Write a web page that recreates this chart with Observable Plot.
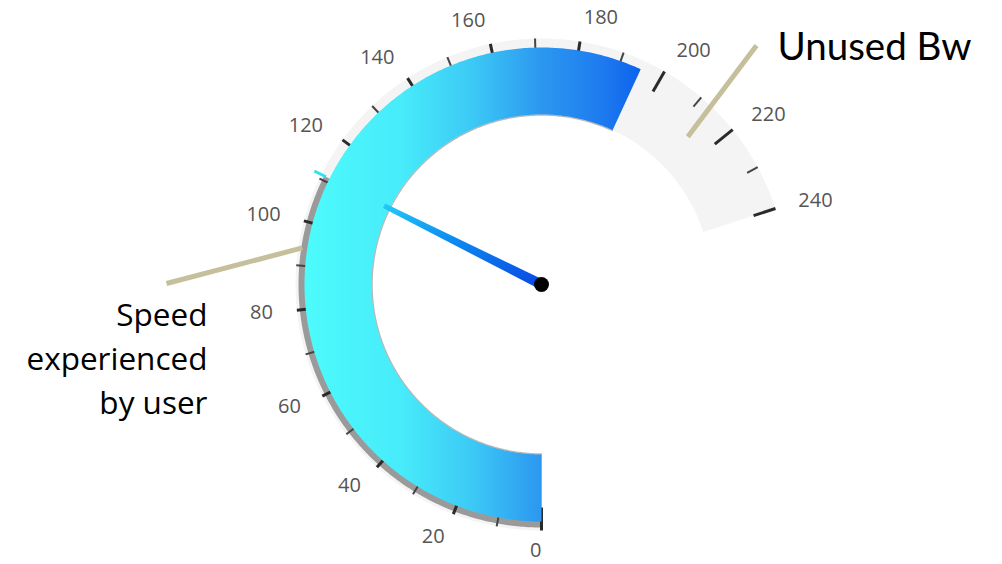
<!DOCTYPE html>
<html>
<head>
<meta charset="utf-8">
<script src="https://cdn.jsdelivr.net/npm/d3@7"></script>
<script src="https://cdn.jsdelivr.net/npm/@observablehq/plot@0.6"></script>
<style>
  html, body { margin: 0; padding: 0; background: #fff; }
  #chart svg { display: block; }
</style>
</head>
<body>
<div id="chart"></div>
<script>
// ---------- data ----------
const gaugeMin = 0;
const gaugeMax = 240;
const majorTicks = [0, 20, 40, 60, 80, 100, 120, 140, 160, 180, 200, 220, 240];
const minorTicks = [10, 30, 50, 70, 90, 110, 130, 150, 170, 190, 210, 230];
const tickLabels = ["0", "20", "40", "60", "80", "100", "120", "140", "160", "180", "200", "220", "240"];
const usedBandwidth = 195;   // end of the coloured arc
const userSpeed = 111;       // needle value
const calloutTexts = ["Unused Bw", "Speed\nexperienced\nby user"];
const calloutValues = [214, 94]; // gauge values the callouts point at

// ---------- layout (pixels) ----------
const W = 1002, H = 564;
const CX = 541, CY = 284;              // gauge centre
const SWEEP = 252;                      // degrees covered by gaugeMin..gaugeMax
const START = -180;                     // angle of gaugeMin, clockwise from 12 o'clock
const R_IN = 170, R_OUT = 237, R_BG = 246, R_SHADOW = 243, R_LABEL = 270;

function ang(v) { return (START + (v - gaugeMin) / (gaugeMax - gaugeMin) * SWEEP) * Math.PI / 180; }
function polar(v, r) { const a = ang(v); return {x: r * Math.sin(a), y: r * Math.cos(a)}; }
function band(v0, v1, r0, r1) {
  const n = Math.max(2, Math.ceil(Math.abs(v1 - v0) / 0.5));
  const pts = [];
  for (let i = 0; i <= n; i++) pts.push(polar(v0 + (v1 - v0) * i / n, r1));
  for (let i = n; i >= 0; i--) pts.push(polar(v0 + (v1 - v0) * i / n, r0));
  return pts;
}
function arcLine(v0, v1, r) {
  const n = Math.max(2, Math.ceil(Math.abs(v1 - v0) / 0.5));
  const pts = [];
  for (let i = 0; i <= n; i++) pts.push(polar(v0 + (v1 - v0) * i / n, r));
  return pts;
}

const tickRows = [
  ...majorTicks.map(v => ({v, major: true, a: polar(v, 223), b: polar(v, 246)})),
  ...minorTicks.map(v => ({v, major: false, a: polar(v, 234), b: polar(v, 246)}))
];
const labelRows = majorTicks.map((v, i) => {
  const a = ang(v);
  // keep the bottom label inside the frame
  const r = R_LABEL - (Math.cos(a) < -0.99 ? 4 : 0);
  return {text: tickLabels[i], left: Math.sin(a) <= 1e-9, ...polar(v, r)};
});

// needle (tapered)
const needleAngle = ang(userSpeed);
function needlePoly() {
  const L = 176, w0 = 5, w1 = 2.5;
  const ux = Math.sin(needleAngle), uy = Math.cos(needleAngle);
  const px = uy, py = -ux;
  return [
    {x: px * w0, y: py * w0},
    {x: ux * L + px * w1, y: uy * L + py * w1},
    {x: ux * L - px * w1, y: uy * L - py * w1},
    {x: -px * w0, y: -py * w0}
  ];
}

// callouts: gauge point -> free end (offsets from gauge centre)
const calloutLayout = [
  {r: 208, end: {x: 215, y: 239}, text: {x: 236, y: 252, anchor: "start"}},
  {r: 242, end: {x: -375, y: 1}, text: {x: -334, y: -10, anchor: "end"}}
];
const calloutLines = calloutValues.map((v, i) => ({a: polar(v, calloutLayout[i].r), b: calloutLayout[i].end}));
const calloutLabels = calloutTexts.map((t, i) => ({text: t, ...calloutLayout[i].text}));

const defs = () => {
  const ns = "http://www.w3.org/2000/svg";
  const d = document.createElementNS(ns, "defs");
  d.innerHTML = `
    <linearGradient id="arcGrad" x1="0" y1="0" x2="1" y2="0">
      <stop offset="0" stop-color="#4dfbfc"/>
      <stop offset="0.29" stop-color="#47ebfa"/>
      <stop offset="0.5" stop-color="#3cc9f5"/>
      <stop offset="0.70" stop-color="#2c98f0"/>
      <stop offset="0.88" stop-color="#1e7cef"/>
      <stop offset="1" stop-color="#0e62ee"/>
    </linearGradient>
    <linearGradient id="needleGrad" x1="0" y1="0" x2="1" y2="1">
      <stop offset="0" stop-color="#22cbf7"/>
      <stop offset="0.45" stop-color="#0c88f0"/>
      <stop offset="1" stop-color="#0a44e2"/>
    </linearGradient>`;
  return d;
};

const seg = {x1: d => d.a.x, y1: d => d.a.y, x2: d => d.b.x, y2: d => d.b.y};

const chart = Plot.plot({
  width: W, height: H,
  margin: 0,
  x: {domain: [-CX, W - CX], range: [0, W], axis: null},
  y: {domain: [-(H - CY), CY], range: [H, 0], axis: null},
  style: {background: "#fff", overflow: "visible"},
  marks: [
    defs,
    // light background band
    Plot.line(band(gaugeMin, gaugeMax, R_IN, R_BG), {x: "x", y: "y", fill: "#f4f4f4", stroke: "none", curve: "linear-closed"}),
    // dark shadow band up to the needle
    Plot.line(band(gaugeMin, userSpeed, R_IN, R_SHADOW), {x: "x", y: "y", fill: "#9a9a9a", stroke: "none", curve: "linear-closed"}),
    // inner shadow
    Plot.line(arcLine(gaugeMin, usedBandwidth, R_IN - 0.5), {x: "x", y: "y", stroke: "#b8b8b8", strokeWidth: 1.5}),
    // ticks
    Plot.link(tickRows, {...seg, stroke: d => d.major ? "#2a2a2a" : "#444", strokeWidth: d => d.major ? 3 : 2}),
    // coloured arc
    Plot.line(band(gaugeMin, usedBandwidth, R_IN, R_OUT), {x: "x", y: "y", fill: "url(#arcGrad)", stroke: "none", curve: "linear-closed"}),
    // needle marker at the rim
    Plot.link([{a: polar(userSpeed, 241), b: polar(userSpeed, 254)}], {...seg, stroke: "#33e0f2", strokeWidth: 3}),
    // needle
    Plot.line(needlePoly(), {x: "x", y: "y", fill: "url(#needleGrad)", stroke: "none", curve: "linear-closed"}),
    Plot.dot([{x: 0, y: 0}], {x: "x", y: "y", r: 7.5, fill: "#000", stroke: "none"}),
    // tick labels
    Plot.text(labelRows.filter(d => d.left), {x: "x", y: "y", text: "text", textAnchor: "end", fontSize: 20, fill: "#555", fontFamily: "'Open Sans', sans-serif"}),
    Plot.text(labelRows.filter(d => !d.left), {x: "x", y: "y", text: "text", textAnchor: "start", fontSize: 20, fill: "#555", fontFamily: "'Open Sans', sans-serif"}),
    // callout lines
    Plot.link(calloutLines, {...seg, stroke: "#c6bf9b", strokeWidth: 5}),
    // callout texts
    Plot.text(calloutLabels.filter(d => d.anchor === "start"), {x: "x", y: "y", text: "text", textAnchor: "start", lineAnchor: "top", fontSize: 38.5, fill: "#000", fontFamily: "Lato, sans-serif"}),
    Plot.text(calloutLabels.filter(d => d.anchor === "end"), {x: "x", y: "y", text: "text", textAnchor: "end", lineAnchor: "top", lineHeight: 1.4, fontSize: 31.5, fill: "#000", fontFamily: "'Open Sans', sans-serif"})
  ]
});
document.getElementById("chart").appendChild(chart);
</script>
</body>
</html>
